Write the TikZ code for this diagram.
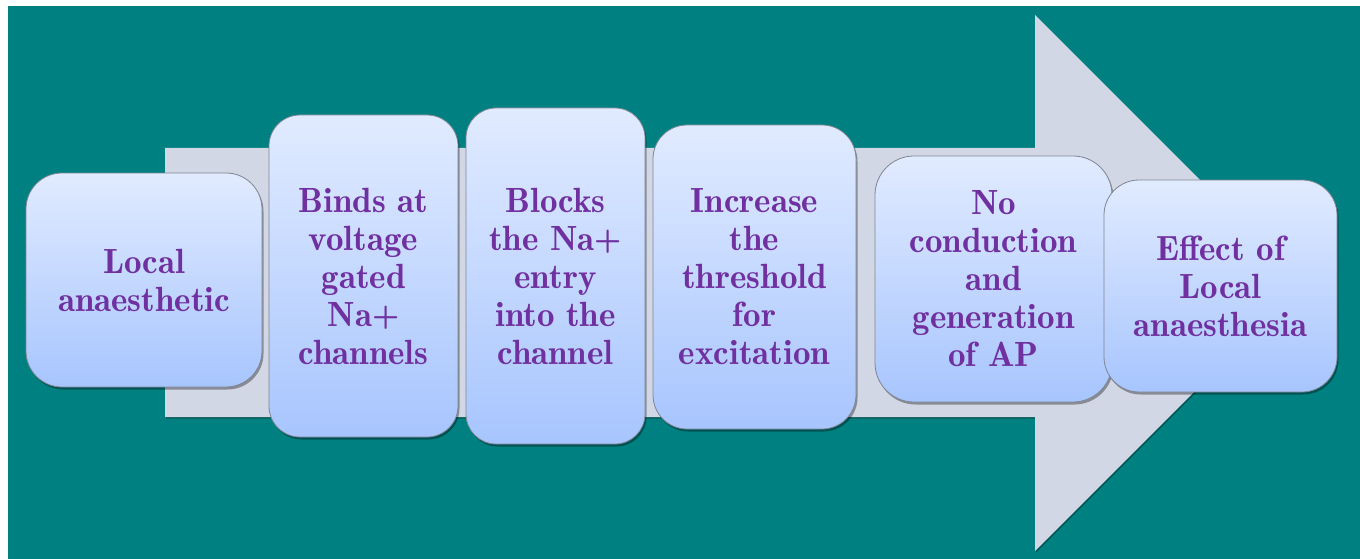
\documentclass[tikz,border=0pt]{standalone}
\usetikzlibrary{shadows}
\definecolor{teal0}{HTML}{008080}
\definecolor{arrowgray}{HTML}{D1D7E4}
\definecolor{boxtop}{HTML}{E1EBFF}
\definecolor{boxbot}{HTML}{A7C5FE}
\definecolor{txt}{HTML}{7030A0}
\definecolor{edge}{HTML}{7F8592}
\tikzset{
  stepbox/.style={draw=edge, line width=0.8pt, top color=boxtop, bottom color=boxbot,
    align=center, text=txt, font=\fontseries{b}\fontsize{35}{38}\selectfont, inner sep=0pt,
    drop shadow={shadow xshift=1.5pt, shadow yshift=-2.5pt, opacity=0.35, fill=black}},
  bigarrow/.style={fill=arrowgray, drop shadow={shadow xshift=1pt, shadow yshift=-1.5pt, opacity=0.3, fill=black}}
}
\begin{document}
\begin{tikzpicture}[x=1pt,y=-1pt]
\useasboundingbox (0,0) rectangle (1360,559);
\fill[white] (0,0) rectangle (1360,559);
\fill[teal0] (8,6) rectangle (1360,559);
\path[bigarrow] (165,148) -- (1035,148) -- (1035,15) -- (1303,283) -- (1035,551) -- (1035,417) -- (165,417) -- cycle;
\node[stepbox, rounded corners=36pt, minimum width=236pt, minimum height=214pt] (b1) at (144,280) {Local\\anaesthetic};
\node[stepbox, rounded corners=31pt, minimum width=189pt, minimum height=322pt] (b2) at (363.5,276) {Binds at\\voltage\\gated\\Na+\\channels};
\node[stepbox, rounded corners=30pt, minimum width=179pt, minimum height=336pt] (b3) at (555.5,276) {Blocks\\the Na+\\entry\\into the\\channel};
\node[stepbox, rounded corners=34pt, minimum width=203pt, minimum height=304pt] (b4) at (754.5,277) {Increase\\the\\threshold\\for\\excitation};
\node[stepbox, rounded corners=39pt, minimum width=237pt, minimum height=246pt] (b5) at (993.5,279) {No\\conduction\\and\\generation\\of AP};
\node[stepbox, rounded corners=35pt, minimum width=233pt, minimum height=212pt] (b6) at (1220.5,286) {Effect of\\Local\\anaesthesia};
\end{tikzpicture}
\end{document}
